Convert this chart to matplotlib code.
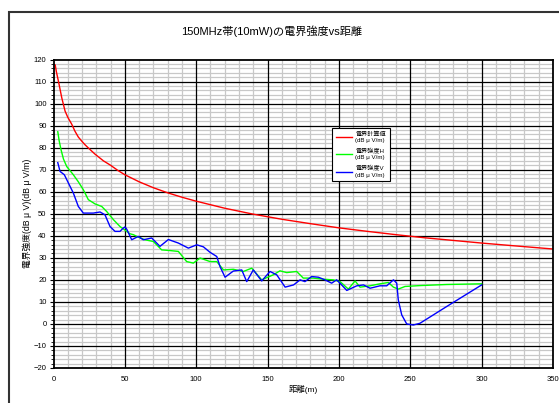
import matplotlib
matplotlib.use("Agg")
import matplotlib.pyplot as plt
from matplotlib.ticker import MultipleLocator
from matplotlib.patches import Rectangle

plt.rcParams['font.family'] = ['Liberation Sans', 'Noto Sans CJK JP', 'DejaVu Sans']

title = "150MHz帯(10mW)の電界強度vs距離"
xlabel = "距離(m)"
ylabel = "電界強度(dB μ V)(dB μ V/m)"
series_names = ["電界計算値\n(dB μ V/m)", "電界強度H\n(dB μ V/m)", "電界強度V\n(dB μ V/m)"]

red_d = [1.2, 2, 3.5, 5.8, 8.1, 10, 12.8, 15, 17.4, 20, 22.1, 25, 29, 35, 40, 45, 50, 60, 70,
         80, 90, 100, 120, 140, 160, 180, 200, 220, 240, 260, 280, 300, 320, 350]
red_v = [117.5, 114.5, 110, 102.6, 96.6, 93.8, 90.6, 87.5, 84.8, 82.8, 81.3, 79.5, 77.1, 74,
         72, 69.7, 67.7, 64.5, 61.8, 59.5, 57.5, 55.7, 52.5, 49.8, 47.5, 45.5, 43.6, 42, 40.5,
         39.1, 37.9, 36.7, 35.6, 34]

h_d = [3, 4, 5.3, 7, 9.3, 13.9, 17.4, 20.9, 24.4, 29, 33.8, 37.3, 42, 46.6, 51.3, 53.6, 56, 59.4,
       64.1, 70, 75.8, 81.6, 87.5, 93.3, 98, 102.7, 109.7, 114.4, 119.1, 126, 133, 138.9,
       145.9, 154, 158.7, 163.4, 170.4, 175, 182, 189, 196, 200.8, 206.6, 211.3, 214.8,
       221.8, 228.8, 234.6, 238.2, 241.6, 246.3, 256.8, 275.5, 300]
h_v = [87.2, 83, 79, 74.8, 71.4, 67.7, 64.5, 60.9, 56.4, 54.5, 53.3, 51, 47.3, 44.2, 42, 40.9,
       40.5, 39.4, 38.2, 37.4, 33.6, 33.3, 32.9, 28.3, 27.6, 29.9, 28.3, 28.3, 24.5, 24.8,
       23.8, 25.3, 20, 22.3, 24.1, 23.3, 23.8, 20.8, 20.8, 20.3, 20, 19.2, 15.8, 19.5, 16.7,
       17.3, 18.2, 18.8, 16.7, 15.8, 17, 17.4, 17.9, 18.2]

v_d = [3, 4.6, 7.6, 10.4, 13.9, 17.4, 20.9, 27.9, 32.6, 36.1, 39.6, 43.1, 46.6, 48.9, 50.1,
       51.3, 54.8, 59.4, 62.9, 68.8, 74.6, 80.5, 87.5, 94.5, 100.4, 105, 109.7, 114.4, 116.7,
       120.2, 126, 131.9, 135.4, 140, 145.9, 151.7, 156.4, 162.3, 168.2, 172.8, 176.2, 180.9,
       185.6, 190.2, 194.9, 198.4, 201.9, 205.5, 212.5, 217.2, 221.8, 228.8, 233.5, 238.2,
       240.5, 241.6, 244, 247.5, 252.1, 256.8, 275.5, 300]
v_v = [73.2, 69.2, 67.7, 64, 59.4, 53.3, 50.3, 50.3, 50.8, 49.5, 44.2, 42, 42, 43.5, 44,
       43, 38.2, 39.7, 38.2, 39, 35.2, 38.3, 36.7, 34.4, 35.9, 35, 32.5, 30.6, 26,
       21.2, 24, 24.5, 19.2, 24.5, 19.5, 23.8, 22.3, 16.7, 17.7, 20, 19.2, 21.5,
       21.2, 20, 18.5, 20, 17.7, 15.2, 17.3, 17.7, 16.2, 17.3, 17.3, 20,
       18.5, 10.9, 4.1, 0, -0.5, 0.3, 7.9, 17.7]

fig = plt.figure(figsize=(5.59, 4.03), dpi=100)
fig.patches.append(Rectangle((9/559, -0.1), 1.2, 1 - 12/403 + 0.1, transform=fig.transFigure,
                             fill=False, edgecolor='#333333', linewidth=1.5))
ax = fig.add_axes([53.5/559, 1 - 368/403, 499.5/559, 308.5/403])

ax.set_xlim(0, 350)
ax.set_ylim(-20, 120)
ax.xaxis.set_major_locator(MultipleLocator(50))
ax.yaxis.set_major_locator(MultipleLocator(10))
ax.yaxis.set_minor_locator(MultipleLocator(2))

# grid: light minor lines below, black major lines above
for y in range(-20, 121, 2):
    if y % 10:
        ax.axhline(y, color='#c8c8c8', linewidth=0.9, zorder=0.5)
for x in range(0, 351, 10):
    if x % 50:
        ax.axvline(x, color='#c8c8c8', linewidth=0.9, zorder=0.5)
for y in range(-10, 120, 10):
    ax.axhline(y, color='#000000', linewidth=0.9, zorder=0.7)
for x in range(50, 350, 50):
    ax.axvline(x, color='#000000', linewidth=0.9, zorder=0.7)

ax.tick_params(axis='x', which='both', length=0, pad=5.5, labelsize=5.5)
ax.tick_params(axis='y', which='major', length=3, width=0.8, pad=2, labelsize=5.5)
ax.tick_params(axis='y', which='minor', length=2, width=0.6)
for s in ax.spines.values():
    s.set_linewidth(1.3)
    s.set_color('#000000')
    s.set_zorder(3)

l1, = ax.plot(red_d, red_v, color='#ff0000', linewidth=1.0, zorder=2)
l2, = ax.plot(h_d, h_v, color='#00ff00', linewidth=1.0, zorder=2)
l3, = ax.plot(v_d, v_v, color='#0000ff', linewidth=1.0, zorder=2)

leg = ax.legend([l1, l2, l3], series_names, loc='upper left',
                bbox_to_anchor=((329 - 53.5)/499.5, 1 - (125 - 59.5)/308.5),
                fontsize=4.4, frameon=True, fancybox=False, framealpha=1,
                edgecolor='#000000', handlelength=2.6, handletextpad=0.6,
                borderpad=0.6, labelspacing=0.9)
leg.get_frame().set_linewidth(0.8)
leg.set_zorder(5)

fig.text(272/559, 1 - 31/403, title, ha='center', va='center', fontsize=8)
ax.set_xlabel(xlabel, fontsize=6, labelpad=2)
ax.set_ylabel(ylabel, fontsize=6.3, labelpad=1)

fig.savefig("out.png", dpi=100)
